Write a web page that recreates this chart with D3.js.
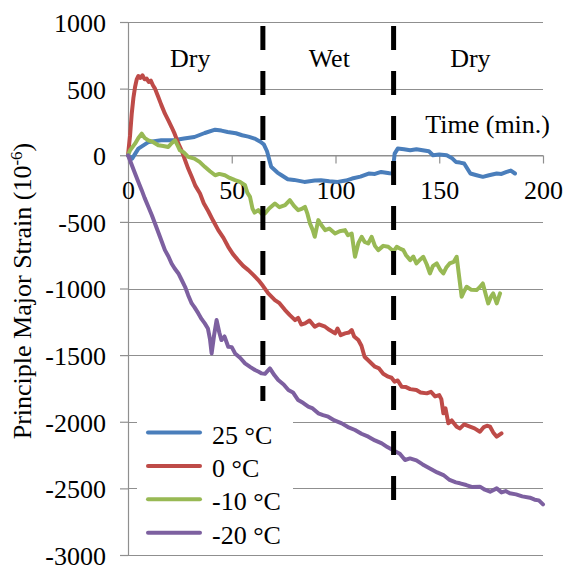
<!DOCTYPE html>
<html>
<head>
<meta charset="utf-8">
<script src="https://cdn.jsdelivr.net/npm/d3@7"></script>
<style>
  body { margin: 0; background: #fff; }
  svg text { font-family: "Liberation Serif", "Times New Roman", serif; fill: #000; }
</style>
</head>
<body>
<svg id="chart" width="567" height="567"></svg>
<script>
// Axis ticks
const timeTicks = [0, 50, 100, 150, 200];
const strainTicks = [1000, 500, 0, -500, -1000, -1500, -2000, -2500, -3000];

// Dry / wet phases (minutes)
const phaseLabels = ["Dry", "Wet", "Dry"];
const phaseCenters = [30, 97, 165];
const phaseBounds = [65, 128];

// Series
const seriesNames = ["25 °C", "0 °C", "-10 °C", "-20 °C"];
const seriesColors = ["#4a7ebb", "#be4b48", "#98b954", "#7d60a0"];

// [time (min), principal major strain (10^-6)]
const strain25 = [[0,0],[2,-25],[5,50],[10,100],[16,112],[22,112],[27,125],[32,137],[37,167],[42,192],[45,185],[48,175],[52,165],[55,150],[58,140],[61,125],[64,100],[65.5,80],[67,30],[69,-87],[72,-130],[74,-150],[77,-180],[80,-185],[85,-200],[90,-190],[93,-187],[97,-195],[101,-200],[105,-190],[108,-175],[112,-160],[116,-137],[119,-140],[122,-125],[126,-135],[127.5,-137],[128.5,12],[130,50],[133,45],[136,37],[139,45],[142,37],[145,30],[147,0],[150,5],[153.6,0],[156,-20],[158,-50],[160,-55],[162,-62],[163.5,-100],[165,-137],[168,-150],[171,-162],[174,-150],[177.7,-137],[180,-140],[182.5,-125],[184.5,-115],[186.5,-137]];

const strain0 = [[0,0],[1,150],[1.8,312],[2.6,430],[3.4,512],[4.2,570],[5,595],[6,580],[7,600],[8,570],[9,575],[10,550],[11,560],[12,525],[13,500],[14.6,437],[16,380],[17.8,312],[19.5,260],[21,212],[22.5,160],[24.3,87],[26,30],[27.5,-37],[29,-100],[30.7,-162],[32.5,-230],[34.7,-287],[36.5,-360],[38.7,-420],[41,-490],[43.5,-562],[46,-620],[48.3,-687],[50.5,-740],[53,-787],[55.5,-830],[58,-862],[60.5,-900],[62.8,-937],[65,-980],[67.6,-1037],[70.8,-1087],[73,-1110],[75.7,-1162],[78,-1200],[80.5,-1237],[82,-1220],[83.5,-1270],[85.3,-1262],[87.5,-1240],[90,-1287],[92,-1270],[95,-1287],[97,-1310],[99.8,-1337],[101,-1300],[102.5,-1350],[104.6,-1337],[106.5,-1330],[107.8,-1312],[109,-1360],[111,-1387],[112.5,-1430],[114,-1512],[116.5,-1550],[119,-1587],[121,-1600],[123,-1640],[125.4,-1662],[127,-1670],[128.5,-1700],[130,-1690],[131.9,-1737],[134,-1740],[136,-1755],[139,-1762],[141,-1780],[144,-1787],[146,-1775],[148,-1810],[150,-1800],[151,-1830],[152,-1937],[153,-1900],[154.4,-2012],[156,-1990],[158.4,-2037],[160,-2050],[162,-2020],[164.8,-2037],[167,-2050],[169.6,-2075],[171.5,-2040],[173,-2030],[174.5,-2037],[176,-2080],[177.7,-2112],[180,-2087]];

const strainM10 = [[0,0],[1,37],[3.4,87],[5,130],[6.6,162],[8,130],[9.8,112],[12,100],[14.6,75],[17,70],[19.4,62],[21,90],[22.7,112],[24,70],[25,37],[27,20],[29,-12],[32,-25],[34.5,-50],[37,-87],[39.5,-120],[42,-150],[44,-140],[46.7,-150],[49,-170],[51.6,-187],[54,-200],[56.4,-225],[57.5,-280],[58.8,-312],[60,-400],[61,-430],[62.8,-412],[64.5,-440],[66,-437],[68,-400],[70.8,-362],[73,-390],[75.7,-375],[78,-337],[80,-380],[82,-412],[84,-400],[85.3,-387],[86.5,-440],[87.7,-512],[89,-560],[90,-612],[91.7,-487],[93,-520],[95,-562],[97,-550],[99.8,-587],[102,-570],[104.6,-562],[106,-600],[107.8,-587],[109.4,-762],[111,-660],[112.6,-612],[114,-650],[115.8,-662],[117.4,-612],[119,-680],[120.6,-712],[123,-680],[125.4,-687],[128,-720],[129.5,-687],[131,-700],[132.7,-712],[134,-750],[136,-787],[137.5,-760],[139,-812],[141,-780],[142.3,-762],[144,-820],[145.5,-887],[147,-830],[148.8,-812],[150.5,-860],[152,-887],[153.5,-840],[155,-812],[157,-800],[158.4,-762],[159.5,-900],[160.8,-1062],[162,-1020],[163.2,-987],[165.5,-1010],[168,-1012],[169.5,-990],[171,-962],[172.5,-1050],[173.6,-1112],[175,-1060],[176,-1037],[177,-1080],[177.7,-1112],[179.3,-1037]];

const strainM20 = [[0,0],[1.5,-60],[3.4,-137],[5,-200],[6.6,-262],[8,-320],[9.8,-387],[11.5,-450],[13,-512],[15.4,-612],[17.8,-712],[19.5,-760],[21,-812],[22.5,-850],[24.3,-887],[26,-940],[27.5,-987],[29,-1050],[30.7,-1112],[32,-1140],[33.9,-1187],[35.5,-1230],[37,-1262],[38.5,-1300],[39.5,-1380],[40.3,-1487],[41.5,-1350],[42.7,-1237],[44,-1330],[45,-1387],[46.5,-1360],[48.3,-1437],[50,-1440],[51.6,-1487],[54,-1520],[56.4,-1562],[59,-1590],[61.2,-1612],[63,-1625],[64.4,-1637],[66,-1640],[68.4,-1600],[70.5,-1650],[72.4,-1687],[75,-1720],[77.3,-1762],[79.5,-1780],[82,-1837],[84.5,-1860],[86.9,-1887],[89,-1900],[91.7,-1937],[94,-1950],[96.5,-1962],[99.5,-1990],[103,-2012],[106,-2040],[109.4,-2062],[112.5,-2090],[115.8,-2112],[119,-2140],[122.3,-2162],[125,-2190],[128,-2215],[131,-2240],[133.5,-2287],[135.9,-2275],[139,-2290],[142,-2320],[145.5,-2350],[149,-2380],[152,-2400],[155,-2437],[158,-2455],[160,-2462],[163,-2475],[166,-2490],[169.6,-2487],[172,-2510],[174.5,-2525],[177.7,-2500],[180,-2530],[182,-2520],[184,-2537],[187,-2545],[190,-2560],[193.7,-2570],[196,-2585],[198,-2590],[200,-2620]];

const seriesData = [strain25, strain0, strainM10, strainM20];

const svg = d3.select("#chart");
const x = d3.scaleLinear().domain([0, 200]).range([128, 543]);
const y = d3.scaleLinear().domain([-3000, 1000]).range([555, 22]);
const gridColor = "#8f8f8f";

// Horizontal gridlines
svg.append("g").selectAll("line").data(strainTicks).join("line")
  .attr("x1", x(0)).attr("x2", x(200))
  .attr("y1", d => Math.round(y(d)) + 0.5).attr("y2", d => Math.round(y(d)) + 0.5)
  .attr("stroke", gridColor).attr("stroke-width", 1.2);

// Vertical (strain) axis
const yAxis = svg.append("g").attr("transform", `translate(${x(0)},0)`)
  .call(d3.axisLeft(y).tickValues(strainTicks).tickSize(8).tickSizeOuter(0)
    .tickPadding(14).tickFormat(d => String(d)));
yAxis.select(".domain").attr("stroke", gridColor).attr("stroke-width", 1.2);
yAxis.selectAll(".tick line").attr("stroke", gridColor).attr("stroke-width", 1.2);
yAxis.selectAll(".tick text").attr("font-size", 26).attr("dy", "0.36em")
  .attr("font-family", "Liberation Serif, Times New Roman, serif").attr("fill", "#000");

// Horizontal (time) axis through zero strain
const xAxis = svg.append("g").attr("transform", `translate(0,${Math.round(y(0)) + 0.5})`)
  .call(d3.axisBottom(x).tickValues(timeTicks).tickSize(8).tickSizeOuter(0)
    .tickPadding(17).tickFormat(d => String(d)));
xAxis.select(".domain").attr("stroke", gridColor).attr("stroke-width", 1.2);
xAxis.selectAll(".tick line").attr("stroke", gridColor).attr("stroke-width", 1.2);
xAxis.selectAll(".tick text").attr("font-size", 26)
  .attr("font-family", "Liberation Serif, Times New Roman, serif").attr("fill", "#000");

// Strain curves
const line = d3.line().x(d => x(d[0])).y(d => y(d[1]));
svg.append("g").selectAll("path").data(seriesData).join("path")
  .attr("d", line)
  .attr("fill", "none")
  .attr("stroke", (d, i) => seriesColors[i])
  .attr("stroke-width", 4)
  .attr("stroke-linejoin", "round")
  .attr("stroke-linecap", "round");

// Phase boundaries
svg.append("g").selectAll("line").data(phaseBounds).join("line")
  .attr("x1", d => x(d)).attr("x2", d => x(d))
  .attr("y1", 26).attr("y2", 500)
  .attr("stroke", "#000").attr("stroke-width", 5)
  .attr("stroke-dasharray", "24 21");

// Phase labels
svg.append("g").selectAll("text").data(phaseLabels).join("text")
  .attr("x", (d, i) => x(phaseCenters[i])).attr("y", 67)
  .attr("text-anchor", "middle").attr("font-size", 26)
  .text(d => d);

// Time axis title
svg.append("text").attr("x", 550).attr("y", 133)
  .attr("text-anchor", "end").attr("font-size", 26)
  .text("Time (min.)");

// Strain axis title
const yTitle = svg.append("text")
  .attr("transform", "translate(31,291) rotate(-90)")
  .attr("text-anchor", "middle").attr("font-size", 26);
yTitle.append("tspan").text("Principle Major Strain (10");
yTitle.append("tspan").attr("font-size", 17).attr("dy", -9).text("-6");
yTitle.append("tspan").attr("dy", 9).text(")");

// Legend
const legend = svg.append("g");
legend.append("rect").attr("x", 137).attr("y", 401).attr("width", 156).attr("height", 147)
  .attr("fill", "#fff");
const items = legend.selectAll("g.item").data(seriesNames).join("g")
  .attr("class", "item")
  .attr("transform", (d, i) => `translate(0,${432.5 + i * 33.4})`);
items.append("line").attr("x1", 148).attr("x2", 200)
  .attr("stroke", (d, i) => seriesColors[i]).attr("stroke-width", 4)
  .attr("stroke-linecap", "round");
items.append("text").attr("x", 212).attr("y", 11).attr("font-size", 26)
  .text(d => d);
</script>
</body>
</html>
